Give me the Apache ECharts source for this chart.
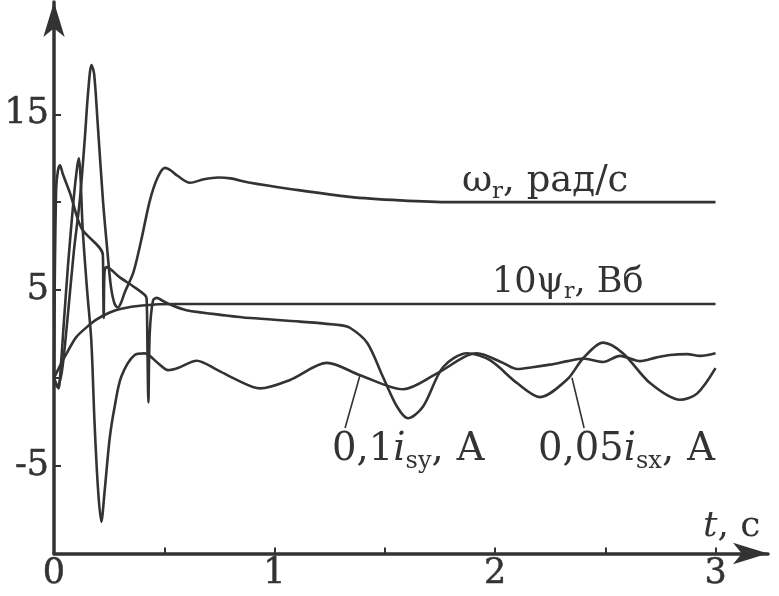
<!DOCTYPE html>
<html>
<head>
<meta charset="utf-8">
<script src="https://cdn.jsdelivr.net/npm/echarts@6/dist/echarts.min.js"></script>
<style>html,body{margin:0;padding:0;background:#fff}#c{width:779px;height:596px}</style>
</head>
<body>
<div id="c"></div>
<script>
// ---- data ----
const omegaT = [0, 0.015, 0.035, 0.06, 0.09, 0.117, 0.139, 0.155, 0.17, 0.182, 0.198, 0.222, 0.24, 0.258, 0.275, 0.29, 0.305, 0.322, 0.36, 0.395, 0.435, 0.47, 0.503, 0.53, 0.56, 0.617, 0.68, 0.745, 0.8, 0.89, 1.07, 1.34, 1.57, 1.8, 2.2, 3.0];
const omegaV = [0, -0.5, 0.3, 3.2, 7.2, 10.1, 13.5, 16.3, 17.8, 17.3, 14.5, 10.1, 7.5, 5.2, 4.2, 4.0, 4.3, 4.9, 6.0, 7.8, 10.1, 11.4, 11.95, 11.8, 11.5, 11.1, 11.3, 11.4, 11.35, 11.1, 10.75, 10.3, 10.1, 10.0, 10.0, 10.0];

const psiT = [0, 0.01, 0.03, 0.058, 0.1, 0.15, 0.19, 0.25, 0.3, 0.4, 0.55, 3.0];
const psiV = [0, 0.25, 0.75, 1.4, 2.3, 2.9, 3.3, 3.7, 3.92, 4.12, 4.2, 4.2];

const isyT = [0, 0.02, 0.03, 0.045, 0.0635, 0.09, 0.105, 0.113, 0.12, 0.13, 0.15, 0.169, 0.184, 0.2, 0.2145, 0.23, 0.252, 0.275, 0.305, 0.366, 0.411, 0.472, 0.517, 0.562, 0.647, 0.74, 0.829, 0.934, 1.07, 1.238, 1.388, 1.583, 1.737, 1.918, 2.036, 2.1, 2.17, 2.249, 2.33, 2.399, 2.49, 2.567, 2.658, 2.73, 2.794, 2.871, 2.93, 3.0];
const isyV = [0, -0.6, 0.5, 3.2, 6.4, 10.3, 12.0, 12.5, 11.5, 8.5, 5.0, 2.15, -2.6, -6.4, -8.2, -6.4, -3.5, -1.65, 0.06, 1.3, 1.39, 0.83, 0.44, 0.56, 0.97, 0.45, -0.12, -0.6, -0.12, 0.85, 0.15, -0.65, 0.25, 1.4, 0.85, 0.5, 0.6, 0.75, 0.95, 1.1, 0.9, 1.25, 0.95, 1.15, 1.3, 1.35, 1.25, 1.4];

const isxT = [0, 0.003, 0.01, 0.018, 0.027, 0.04, 0.073, 0.125, 0.2215, 0.2235, 0.2255, 0.229, 0.238, 0.3, 0.36, 0.413, 0.42, 0.424, 0.428, 0.434, 0.449, 0.467, 0.49, 0.54, 0.6, 0.78, 0.89, 1.116, 1.297, 1.342, 1.42, 1.492, 1.556, 1.605, 1.673, 1.764, 1.873, 1.977, 2.1, 2.204, 2.327, 2.399, 2.49, 2.58, 2.703, 2.839, 2.916, 3.0];
const isxV = [0, 5, 10.8, 11.8, 12.1, 11.6, 10.5, 8.5, 7.0, 5.0, 3.4, 6.0, 6.3, 5.7, 5.2, 4.7, 4.5, 1.5, -1.4, 2.5, 4.4, 4.55, 4.4, 4.1, 3.85, 3.55, 3.4, 3.2, 3.0, 2.85, 2.0, 0.05, -1.65, -2.3, -1.65, 0.6, 1.4, 1.0, -0.3, -1.1, -0.1, 1.1, 2.0, 1.4, -0.3, -1.25, -0.9, 0.55];

const yTickValues = [-5, 0, 5, 10, 15];
const yLabelValues = [-5, 5, 15];
const xTickValues = [0.5, 1, 1.5, 2, 2.5, 3];
const xLabelValues = [0, 1, 2, 3];

// annotation texts (anchored in data units: left edge, baseline)
const notes = [
  {t: 1.85,  v: 10.57, size: 37, text: '{a|ω}{s|r}{a|, рад/с}'},
  {t: 1.986, v: 4.83,  size: 35, text: '{a|10ψ}{s|r}{a|, Вб}'},
  {t: 1.261, v: -4.78, size: 38.5, text: '{a|0,1}{i|i}{s|sy}{a|, А}'},
  {t: 2.195, v: -4.78, size: 38.5, text: '{a|0,05}{i|i}{s|sx}{a|, А}'},
  {t: 2.943, v: -9.06, size: 36, text: '{i|t}{a|, с}'}
];
const leaders = [
  [[1.32, -2.86], [1.388, 0.16]],
  [[2.404, -2.86], [2.349, 0.0]]
];

// ---- chart ----
const INK = '#333333';
const FONT = '"DejaVu Serif", "Liberation Serif", serif';
const zip = (t, v) => t.map((x, i) => [x, v[i]]);
const mkSeries = (name, t, v) => ({
  name, type: 'line', data: zip(t, v), smooth: 0.3, symbol: 'none', silent: true,
  lineStyle: {color: INK, width: 2.6}
});
const tickLabel = {color: INK, fontFamily: FONT, fontSize: 35, textBorderColor: INK, textBorderWidth: 0.5, formatter: v => String(v)};

const chart = echarts.init(document.getElementById('c'), null, {renderer: 'canvas'});
chart.setOption({
  animation: false,
  backgroundColor: '#ffffff',
  grid: {left: 54, right: 11, top: 2, bottom: 42.5, containLabel: false, outerBoundsMode: 'none'},
  xAxis: {
    type: 'value', min: 0, max: 3.238,
    axisLine: {onZero: false, symbol: ['none', 'arrow'], symbolSize: [16, 35], lineStyle: {color: INK, width: 3.5}},
    axisTick: {inside: true, length: 6, customValues: xTickValues, lineStyle: {color: INK, width: 2}},
    axisLabel: Object.assign({customValues: xLabelValues, margin: 3}, tickLabel),
    splitLine: {show: false}
  },
  yAxis: {
    type: 'value', min: -10, max: 21.39,
    axisLine: {onZero: false, symbol: ['none', 'arrow'], symbolSize: [16, 35], lineStyle: {color: INK, width: 3.5}},
    axisTick: {inside: true, length: 7, customValues: yTickValues, lineStyle: {color: INK, width: 2}},
    axisLabel: Object.assign({customValues: yLabelValues, margin: 5}, tickLabel),
    splitLine: {show: false}
  },
  series: [
    mkSeries('omega', omegaT, omegaV),
    mkSeries('psi', psiT, psiV),
    mkSeries('isy', isyT, isyV),
    mkSeries('isx', isxT, isxV)
  ]
});

const graphics = [];
notes.forEach(n => {
  const fs = n.size, ss = Math.round(fs * 0.63);
  const common = {fontFamily: FONT, fill: INK};
  const rich = {
    a: Object.assign({fontSize: fs, lineHeight: fs * 1.2}, common),
    i: Object.assign({fontSize: fs, lineHeight: fs * 1.2, fontStyle: 'italic'}, common),
    s: Object.assign({fontSize: ss, lineHeight: ss, verticalAlign: 'bottom'}, common)
  };
  const p = chart.convertToPixel({gridIndex: 0}, [n.t, n.v]);
  graphics.push({
    type: 'text', x: p[0], y: p[1] + 0.3 * fs, silent: true,
    style: {text: n.text, rich, fontSize: fs, fontFamily: FONT, fill: INK,
            align: 'left', verticalAlign: 'bottom'}
  });
});
leaders.forEach(l => {
  const a = chart.convertToPixel({gridIndex: 0}, l[0]);
  const b = chart.convertToPixel({gridIndex: 0}, l[1]);
  graphics.push({type: 'line', silent: true, shape: {x1: a[0], y1: a[1], x2: b[0], y2: b[1]},
                 style: {stroke: INK, lineWidth: 1.6}});
});
chart.setOption({graphic: graphics});
</script>
</body>
</html>
